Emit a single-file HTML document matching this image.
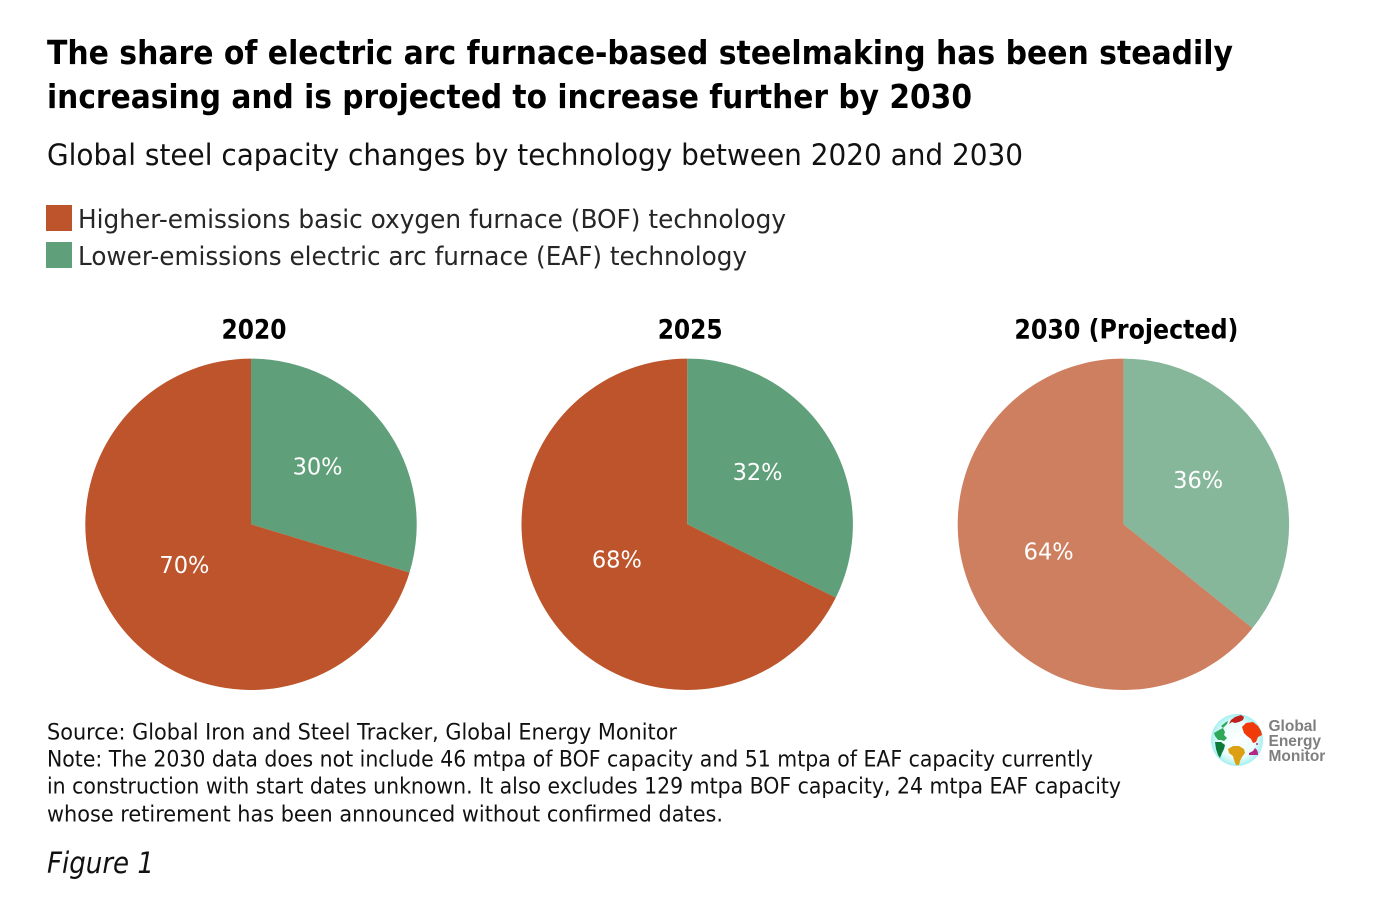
<!DOCTYPE html>
<html lang="en">
<head>
<meta charset="utf-8">
<title>Electric arc furnace share of steelmaking</title>
<style>
html,body{margin:0;padding:0;background:#fff;}
svg{display:block;}
text{font-family:"DejaVu Sans","Liberation Sans",sans-serif;}
</style>
</head>
<body>
<svg id="chart" width="1392" height="912" viewBox="0 0 1392 912" xmlns="http://www.w3.org/2000/svg">
  <rect width="1392" height="912" fill="#ffffff"/>
  <g font-size="33" font-weight="700" fill="#000">
    <text x="47" y="64" textLength="1186" lengthAdjust="spacingAndGlyphs">The share of electric arc furnace-based steelmaking has been steadily</text>
    <text x="47" y="108" textLength="925" lengthAdjust="spacingAndGlyphs">increasing and is projected to increase further by 2030</text>
  </g>
  <text x="47" y="165" font-size="29" fill="#111" textLength="976" lengthAdjust="spacingAndGlyphs">Global steel capacity changes by technology between 2020 and 2030</text>

  <g font-size="26" fill="#262626">
    <g>
      <rect x="46" y="205" width="26" height="26" fill="#bd542b"/>
      <text x="78" y="228" textLength="708" lengthAdjust="spacingAndGlyphs">Higher-emissions basic oxygen furnace (BOF) technology</text>
    </g>
    <g>
      <rect x="46" y="242" width="26" height="26" fill="#5f9f79"/>
      <text x="78" y="265" textLength="669" lengthAdjust="spacingAndGlyphs">Lower-emissions electric arc furnace (EAF) technology</text>
    </g>
  </g>

  <g id="pies"></g>

  <g font-size="22" fill="#111">
    <text x="47" y="739.500" textLength="630" lengthAdjust="spacingAndGlyphs">Source: Global Iron and Steel Tracker, Global Energy Monitor</text>
    <text x="47" y="766.500" textLength="1046" lengthAdjust="spacingAndGlyphs">Note: The 2030 data does not include 46 mtpa of BOF capacity and 51 mtpa of EAF capacity currently</text>
    <text x="47" y="793.500" textLength="1074" lengthAdjust="spacingAndGlyphs">in construction with start dates unknown. It also excludes 129 mtpa BOF capacity, 24 mtpa EAF capacity</text>
    <text x="47" y="821.500" textLength="676" lengthAdjust="spacingAndGlyphs">whose retirement has been announced without confirmed dates.</text>
  </g>
  <text x="47" y="873" font-size="29" font-style="italic" fill="#111" textLength="107" lengthAdjust="spacingAndGlyphs">Figure 1</text>

  <g>
    <defs>
      <radialGradient id="globeFill" cx="50%" cy="50%" r="50%">
        <stop offset="0%" stop-color="#ffffff"/>
        <stop offset="70%" stop-color="#eafcfc"/>
        <stop offset="100%" stop-color="#a5f0f0"/>
      </radialGradient>
    </defs>
    <circle cx="1237" cy="740" r="26" fill="url(#globeFill)"/>
    <path fill="#2fa85a" d="M1221 726l5-4 2-1-1 3-4 4z"/>
    <path fill="#2fa85a" d="M1214 733l5-3 4-2 2 4-1 3 3 3-3 3-3-1-3 0-3-4z"/>
    <path fill="#0d7a3a" d="M1215 742l6 0 4 3-1 4-2 4-2 5-2-3-2-6z"/>
    <path fill="#c0201c" d="M1229 724l2-4 4-3 6-2 3 2-1 3-4 2-4 1-3-1z"/>
    <path fill="#f03a0a" d="M1242 727l4-4 7-1 5 4 3 5 1 4-4 2-2 5-3 1-2-4-4-3-3-3z"/>
    <path fill="#dca012" d="M1228 749l5-3 6 0 5 3 1 4-3 4-2 4-1 4-3 0-2-5-1-4-4-3z"/>
    <path fill="#b02a86" d="M1249 753l4-2 2-3 2 2 1 3 0 2-4 0h-5z"/>
    <circle cx="1257" cy="744" r="1" fill="#b02a86"/>
    <g font-size="15.500" font-weight="700" fill="#7f7f7f" style="font-family:'Liberation Sans',sans-serif">
      <text x="1268.500" y="731" style="font-family:'Liberation Sans',sans-serif">Global</text>
      <text x="1268.500" y="746" style="font-family:'Liberation Sans',sans-serif">Energy</text>
      <text x="1268.500" y="761" style="font-family:'Liberation Sans',sans-serif">Monitor</text>
    </g>
  </g>
</svg>
<script>
const years = ["2020", "2025", "2030 (Projected)"];
const eafShare = [29.7, 32.3, 35.8];
const bofShare = [70.3, 67.7, 64.2];
const eafLabels = ["30%", "32%", "36%"];
const bofLabels = ["70%", "68%", "64%"];
const projected = [false, false, true];

const svgNS = "http://www.w3.org/2000/svg";
const root = document.getElementById("pies");
const pieRadius = 165.7;
const pieTop = 524.3;
const pieFirstX = 251;
const pieStep = 436.2;

function angleOf(fraction) { return fraction * 2 * Math.PI; }
function pointAt(cx, cy, r, angle) {
  return [cx + r * Math.sin(angle), cy - r * Math.cos(angle)];
}
function wedge(cx, cy, r, a0, a1) {
  const p0 = pointAt(cx, cy, r, a0);
  const p1 = pointAt(cx, cy, r, a1);
  const large = a1 - a0 > Math.PI ? 1 : 0;
  return "M" + cx + " " + cy + "L" + p0[0] + " " + p0[1] +
    "A" + r + " " + r + " 0 " + large + " 1 " + p1[0] + " " + p1[1] + "Z";
}
function addSlice(group, name, cx, a0, a1, color, opacity) {
  const path = document.createElementNS(svgNS, "path");
  path.setAttribute("d", wedge(cx, pieTop, pieRadius, a0, a1));
  path.setAttribute("fill", color);
  path.setAttribute("fill-opacity", opacity);
  
  
  group.appendChild(path);
}
function addLabel(group, name, cx, midAngle, content) {
  const pos = pointAt(cx, pieTop, pieRadius * 0.5, midAngle);
  const label = document.createElementNS(svgNS, "text");
  label.setAttribute("x", pos[0]);
  label.setAttribute("y", pos[1] - 0.5);
  label.setAttribute("text-anchor", "middle");
  label.setAttribute("font-size", "23");
  label.setAttribute("fill", "#ffffff");
  label.setAttribute("textLength", "50");
  label.setAttribute("lengthAdjust", "spacingAndGlyphs");
  label.textContent = content;
  
  
  group.appendChild(label);
}

years.forEach(function (year, i) {
  const cx = pieFirstX + i * pieStep;
  const group = document.createElementNS(svgNS, "g");
  
  
  root.appendChild(group);

  const heading = document.createElementNS(svgNS, "text");
  heading.setAttribute("x", cx + 3);
  heading.setAttribute("y", 338.5);
  heading.setAttribute("text-anchor", "middle");
  heading.setAttribute("font-size", "27");
  heading.setAttribute("font-weight", "600");
  heading.setAttribute("fill", "#000");
  heading.setAttribute("textLength", i === 2 ? "224" : "65");
  heading.setAttribute("lengthAdjust", "spacingAndGlyphs");
  heading.textContent = year;
  
  
  group.appendChild(heading);

  const total = eafShare[i] + bofShare[i];
  const split = angleOf(eafShare[i] / total);
  const opacity = projected[i] ? 0.75 : 1;
  addSlice(group, 'slice-eaf', cx, 0, split, "#5f9f79", opacity);
  addSlice(group, 'slice-bof', cx, split, 2 * Math.PI, "#bd542b", opacity);
  addLabel(group, 'label-eaf', cx, split / 2, eafLabels[i]);
  addLabel(group, 'label-bof', cx, (split + 2 * Math.PI) / 2, bofLabels[i]);
});
</script>
</body>
</html>
